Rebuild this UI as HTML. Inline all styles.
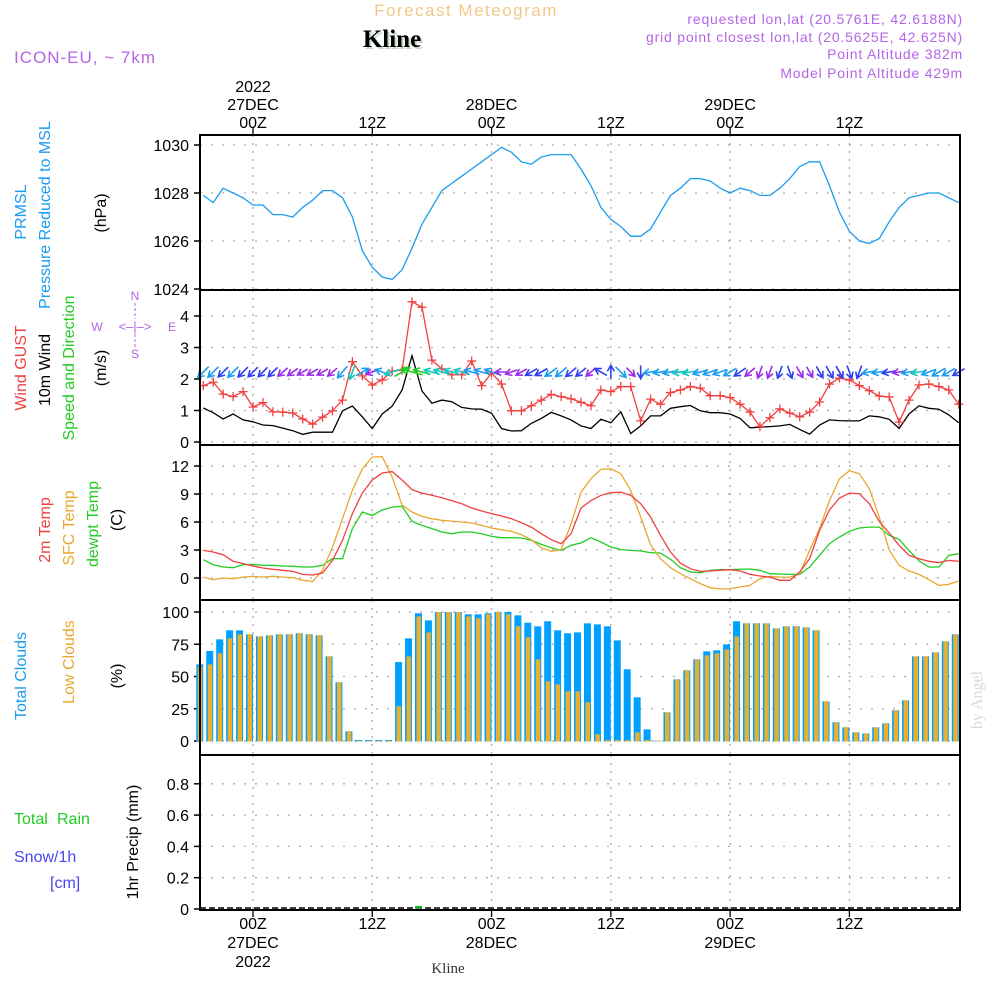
<!DOCTYPE html>
<html><head><meta charset="utf-8"><style>
html,body{margin:0;padding:0;background:#fff;}
svg{display:block;font-family:"Liberation Sans",sans-serif;}
</style></head><body>
<svg id="chart" width="1000" height="1000" viewBox="0 0 1000 1000" xmlns="http://www.w3.org/2000/svg">
<rect x="0" y="0" width="1000" height="1000" fill="#fff"/>
<text x="466" y="16" text-anchor="middle" font-size="17" fill="#f2c88a" letter-spacing="1.5">Forecast Meteogram</text>
<text x="394" y="49" text-anchor="middle" font-size="25" font-weight="bold" font-family="Liberation Serif, serif" fill="#c8d8c8">Kline</text>
<text x="392" y="47" text-anchor="middle" font-size="25" font-weight="bold" font-family="Liberation Serif, serif" fill="#000">Kline</text>
<text x="14" y="63" font-size="17" fill="#b464e6" letter-spacing="1">ICON-EU, ~ 7km</text>
<g font-size="14" fill="#b464e6" text-anchor="end" letter-spacing="0.8">
<text x="963" y="24">requested lon,lat (20.5761E, 42.6188N)</text>
<text x="963" y="42">grid point closest lon,lat (20.5625E, 42.625N)</text>
<text x="963" y="59">Point Altitude 382m</text>
<text x="963" y="78">Model Point Altitude 429m</text>
</g>
<text transform="rotate(-90 982 700)" x="982" y="700" text-anchor="middle" font-size="16" font-family="Liberation Serif, serif" fill="#d2dcd2">by Angel</text>
<g id="layer"></g>
</svg>
<script>
// ---- data (hourly, from 19Z 26DEC = hour -5 to 23Z 29DEC = hour 71) ----
const hourStart = -5;
const pressure = [1027.9,1027.6,1028.2,1028.0,1027.8,1027.5,1027.5,1027.1,1027.1,1027.0,1027.4,1027.7,1028.1,1028.1,1027.8,1027.0,1025.6,1024.9,1024.5,1024.4,1024.8,1025.7,1026.7,1027.4,1028.1,1028.4,1028.7,1029.0,1029.3,1029.6,1029.9,1029.7,1029.3,1029.2,1029.5,1029.6,1029.6,1029.6,1029.0,1028.3,1027.4,1026.9,1026.6,1026.2,1026.2,1026.5,1027.2,1027.9,1028.2,1028.6,1028.6,1028.5,1028.2,1028.0,1028.2,1028.1,1027.9,1027.9,1028.2,1028.6,1029.1,1029.3,1029.3,1028.3,1027.2,1026.4,1026.0,1025.9,1026.1,1026.8,1027.4,1027.8,1027.9,1028.0,1028.0,1027.8,1027.6];
const gust = [1.79,1.9,1.52,1.44,1.6,1.11,1.25,0.96,0.95,0.92,0.73,0.57,0.79,0.99,1.33,2.55,2.1,1.81,1.97,2.25,2.28,4.45,4.28,2.6,2.32,2.13,2.13,2.57,1.79,2.19,1.84,0.99,0.99,1.15,1.33,1.51,1.44,1.37,1.26,1.15,1.65,1.6,1.76,1.76,0.67,1.36,1.2,1.57,1.65,1.76,1.71,1.47,1.47,1.41,1.2,0.95,0.49,0.77,1.05,0.92,0.8,0.95,1.27,1.84,2.03,1.97,1.79,1.63,1.46,1.43,0.63,1.33,1.81,1.84,1.76,1.65,1.2];
const wind = [1.08,0.93,0.73,0.89,0.7,0.64,0.54,0.52,0.44,0.36,0.24,0.31,0.31,0.31,0.99,1.14,0.8,0.43,0.89,1.14,1.65,2.74,1.62,1.23,1.33,1.28,1.1,1.05,1.04,0.91,0.43,0.35,0.36,0.59,0.75,0.94,0.83,0.7,0.51,0.43,0.72,0.61,0.96,0.27,0.51,0.83,0.83,1.07,1.12,1.16,0.99,0.93,0.93,0.89,0.75,0.45,0.47,0.49,0.51,0.56,0.4,0.25,0.54,0.7,0.68,0.67,0.67,0.83,0.8,0.72,0.43,0.89,1.15,1.07,1.04,0.86,0.61];
const windDir = [225,225,225,225,225,225,225,225,230,235,240,240,240,230,220,200,60,250,290,250,60,285,285,285,285,285,285,285,285,290,270,250,240,240,240,235,230,230,230,230,300,0,135,135,180,260,260,260,260,260,255,250,250,240,235,230,200,200,200,160,150,150,150,150,150,160,200,260,260,260,260,260,260,250,240,240,240];
const temp2m = [2.96,2.79,2.5,1.79,1.54,1.29,1.07,0.93,0.82,0.71,0.39,0.32,0.54,1.89,4.04,6.9,9.1,10.5,11.25,11.4,10.5,9.46,9.1,8.86,8.6,8.3,7.96,7.5,7.18,6.9,6.64,6.36,5.93,5.46,4.75,4.1,3.68,4.75,7.5,8.3,8.86,9.14,9.2,8.86,7.96,6.54,4.57,2.79,1.6,1.0,0.71,0.75,0.82,0.89,0.75,0.39,0.21,0.1,-0.25,-0.25,0.64,2.07,5.1,7.3,8.57,9.1,9.04,7.96,6.07,4.82,3.5,2.43,2.07,1.79,1.64,1.89,1.79];
const tempSfc = [0.1,-0.18,0,-0.07,0.1,0.18,0.1,0.18,0.1,0.04,-0.25,-0.36,0.82,3.3,6.36,9.4,11.7,12.96,13.0,10.8,7.8,7.07,6.6,6.36,6.18,6.1,6.0,5.9,5.64,5.36,5.18,5.0,4.64,4.1,3.25,2.86,3.04,5.8,9.2,10.64,11.64,11.7,11.18,9.39,6.54,3.57,2.07,1.1,0.46,-0.07,-0.6,-1.04,-1.18,-1.14,-0.96,-0.79,-0.07,0.18,0.1,0.1,0.46,2.96,5.29,8.3,10.64,11.5,11.18,9.57,6.54,3.0,1.36,0.75,0.39,-0.18,-0.79,-0.68,-0.32];
const dewpt = [1.96,1.43,1.18,1.1,1.43,1.46,1.36,1.36,1.29,1.25,1.18,1.18,1.36,2.07,2.07,5.29,7.07,6.7,7.3,7.6,7.68,6.07,5.64,5.29,4.93,4.75,4.93,4.93,4.75,4.46,4.32,4.32,4.29,4.04,3.6,3.25,2.96,3.5,3.75,4.32,3.86,3.32,3.04,2.96,2.89,2.71,2.68,2.0,1.1,0.64,0.57,0.82,0.89,0.89,0.93,0.96,0.82,0.46,0.43,0.39,0.39,1.18,2.43,3.68,4.39,5.0,5.36,5.46,5.46,4.57,4.14,2.96,1.82,1.18,1.18,2.43,2.6];
const totalClouds = [59.4,69.8,78.8,85.8,85.8,82.7,81.1,81.9,82.7,82.7,83.5,82.7,81.9,65.6,45.5,7.5,0.8,0.8,0.8,0.8,61.2,79.6,99,93.5,100,100,100,98.2,98.2,99,100,100,97.4,91.7,88.9,92.8,85.8,83.5,84.2,91.2,90.4,88.9,78,55.6,33.9,9,0.3,22.2,47.8,54.8,63.3,69.5,70.3,74.9,92.8,91.2,91.2,91.2,87.3,88.9,88.9,88.1,85.8,30.7,14.5,10.6,6.7,5.9,10.6,13.7,23.8,31.5,65.6,65.6,68.7,77.3,82.7];
const lowClouds = [57.4,59.4,68,79.6,82.7,82.7,81.1,81.9,82.7,82.7,83.5,82.7,81.9,65.6,45.5,7.5,0.3,0.3,0.3,0.3,26.9,65.6,96.6,84.2,100,100,100,96.6,95.1,98.2,100,98.2,88.9,80.4,63.3,46.3,43.9,38.5,38.5,30,5.2,0.8,0.8,0.8,6.7,0.8,0.3,22.2,47.8,54.8,63.3,66.4,68,71,81.1,91.2,91.2,91.2,87.3,88.9,88.9,88.1,85.8,30.7,14.5,10.6,6.7,5.9,10.6,13.7,23.8,31.5,65.6,65.6,68.7,77.3,82.7];
const precip = [0,0,0,0,0,0,0,0,0,0,0,0,0,0,0,0,0,0,0,0,0,0,0.01,0,0,0,0,0,0,0,0,0,0,0,0,0,0,0,0,0,0,0,0,0,0,0,0,0,0,0,0,0,0,0,0,0,0,0,0,0,0,0,0,0,0,0,0,0,0,0,0,0,0,0,0,0,0];
const pTicks = [1024,1026,1028,1030];
const wTicks = [0,1,2,3,4];
const tTicks = [0,3,6,9,12];
const cTicks = [0,25,50,75,100];
const rTicks = [0,0.2,0.4,0.6,0.8];
const rTickLabels = ["0","0.2","0.4","0.6","0.8"];
const timeTicks = [0,12,24,36,48,60];
const timeLabels = ["00Z","12Z","00Z","12Z","00Z","12Z"];
const dayLabels = ["27DEC","","28DEC","","29DEC",""];

// ---- scales ----
const X0 = 200, X1 = 960;
const xH = h => 253 + h * 9.94;
const xI = i => xH(hourStart + i);
const pY = v => 145 + (1030 - v) * 24;
const wY = v => 442 - v * 31.5;
const tY = v => 578 - v * 9.33;
const cY = v => 741 - v * 1.29;
const rY = v => 909 - v * 156.5;
const panels = [[135,290],[290,445],[445,600],[600,755],[755,910]];

const NS = "http://www.w3.org/2000/svg";
const layer = document.getElementById("layer");
function mk(tag, attrs, parent) {
  const e = document.createElementNS(NS, tag);
  for (const k in attrs) e.setAttribute(k, attrs[k]);
  (parent || layer).appendChild(e);
  return e;
}
function txt(s, attrs, parent) { const e = mk("text", attrs, parent); e.textContent = s; return e; }

panels.forEach((p, k) => {
  const g = mk("g", {});
  
  
  mk("rect", {x: X0, y: p[0], width: X1 - X0, height: p[1] - p[0], fill: "#fff"}, g);
  timeTicks.forEach(h => {
    mk("line", {x1: xH(h), x2: xH(h), y1: p[0], y2: p[1], stroke: "#aaa", "stroke-width": 1.3, "stroke-dasharray": "2,6"}, g);
  });
});
function hGrid(vals, fy, fmt) {
  vals.forEach((v, j) => {
    const y = fy(v);
    mk("line", {x1: X0, x2: X1, y1: y, y2: y, stroke: "#aaa", "stroke-width": 1.3, "stroke-dasharray": "2,9"});
    mk("line", {x1: X0 - 6, x2: X0, y1: y, y2: y, stroke: "#000", "stroke-width": 1.5});
    const t = txt(fmt ? fmt[j] : String(v), {x: 189, y: y + 6, "text-anchor": "end", "font-size": 16, fill: "#000"});
    
    
  });
}
hGrid(pTicks, pY); hGrid(wTicks, wY); hGrid(tTicks, tY); hGrid(cTicks, cY); hGrid(rTicks, rY, rTickLabels);

function polyline(vals, fy, color, name, w) {
  const pts = vals.map((v, i) => xI(i).toFixed(1) + "," + fy(v).toFixed(1)).join(" ");
  const e = mk("polyline", {points: pts, fill: "none", stroke: color, "stroke-width": w || 1.3});
  
  
  return e;
}
polyline(pressure, pY, "#1a9cf0", "pressure-line");
polyline(wind, wY, "#000", "wind-speed-line");
polyline(gust, wY, "#f04040", "wind-gust-line");
gust.forEach((v, i) => {
  const x = xI(i), y = wY(v);
  const m = mk("path", {d: `M${x-4.5},${y}H${x+4.5}M${x},${y-4.5}V${y+4.5}`, stroke: "#f04040", "stroke-width": 1.3});
  
  
});
function windColor(s) {
  if (s < 0.5) return "#9a2ee8";
  if (s < 0.8) return "#3040f0";
  if (s < 1.1) return "#1a9cf0";
  if (s < 1.5) return "#18c8c0";
  return "#22cc22";
}
wind.forEach((s, i) => {
  const a = windDir[i] * Math.PI / 180;
  const L = 11 + s * 4;
  const dx = Math.sin(a) * L, dy = -Math.cos(a) * L;
  const cx = xI(i), cy = 372;
  const x1 = cx - dx / 2, y1 = cy - dy / 2, x2 = cx + dx / 2, y2 = cy + dy / 2;
  const ux = dx / L, uy = dy / L;
  const hx1 = x2 - ux * 6 + uy * 3.5, hy1 = y2 - uy * 6 - ux * 3.5;
  const hx2 = x2 - ux * 6 - uy * 3.5, hy2 = y2 - uy * 6 + ux * 3.5;
  const c = windColor(s);
  const e = mk("path", {d: `M${x1},${y1}L${x2},${y2}M${hx1},${hy1}L${x2},${y2}L${hx2},${hy2}`, stroke: c, "stroke-width": 1.6, fill: "none"});
  
  
});
polyline(dewpt, tY, "#22cc22", "dewpoint-line");
polyline(tempSfc, tY, "#e8a830", "sfc-temp-line");
polyline(temp2m, tY, "#f04040", "temp-2m-line");
totalClouds.forEach((v, i) => {
  const x = xI(i);
  const b = mk("rect", {x: x - 7, y: cY(v), width: 7, height: cY(0) - cY(v) + 0.5, fill: "#00a0ff"});
  
  
  const o = mk("rect", {x: x - 5.5, y: cY(lowClouds[i]), width: 4.5, height: cY(0) - cY(lowClouds[i]) + 0.5, fill: "#e8b030"});
  
  
});
mk("line", {x1: X0, x2: X1, y1: rY(0) - 1, y2: rY(0) - 1, stroke: "#000", "stroke-width": 1.5, "stroke-dasharray": "6,3"});
precip.forEach((v, i) => {
  if (v <= 0) return;
  const x = xI(i);
  const h = Math.max(2.5, rY(0) - rY(v));
  const b = mk("rect", {x: x - 7, y: rY(0) - h - 0.5, width: 7, height: h, fill: "#22aa22"});
  
  
});
panels.forEach(p => {
  mk("rect", {x: X0, y: p[0], width: X1 - X0, height: p[1] - p[0], fill: "none", stroke: "#000", "stroke-width": 2});
});
timeTicks.forEach((h, j) => {
  const x = xH(h);
  mk("line", {x1: x, x2: x, y1: 128, y2: 135, stroke: "#000", "stroke-width": 1.3});
  mk("line", {x1: x, x2: x, y1: 910, y2: 917, stroke: "#000", "stroke-width": 1.3});
  const t1 = txt(timeLabels[j], {x: x, y: 128, "text-anchor": "middle", "font-size": 16});
  
  
  const t2 = txt(timeLabels[j], {x: x, y: 929, "text-anchor": "middle", "font-size": 16});
  
  
  if (dayLabels[j]) {
    const d1 = txt(dayLabels[j], {x: x, y: 110, "text-anchor": "middle", "font-size": 16});
    
    
    const d2 = txt(dayLabels[j], {x: x, y: 948, "text-anchor": "middle", "font-size": 16});
    
    
  }
});
const yr1 = txt("2022", {x: xH(0), y: 92, "text-anchor": "middle", "font-size": 16});


const yr2 = txt("2022", {x: xH(0), y: 967, "text-anchor": "middle", "font-size": 16});


const kl = txt("Kline", {x: 448, y: 973, "text-anchor": "middle", "font-size": 15, "font-family": "Liberation Serif, serif", fill: "#333"});



const vlabels = [
  ["PRMSL", 26, 212, "#1a9cf0", "pressure-title-1"],
  ["Pressure Reduced to MSL", 50, 215, "#1a9cf0", "pressure-title-2"],
  ["(hPa)", 106, 213, "#000", "pressure-unit"],
  ["Wind GUST", 26, 368, "#f04040", "gust-title"],
  ["10m Wind", 50, 370, "#000", "wind-title"],
  ["Speed and Direction", 74, 368, "#22cc22", "wind-subtitle"],
  ["(m/s)", 106, 368, "#000", "wind-unit"],
  ["2m Temp", 50, 530, "#f04040", "temp-2m-title"],
  ["SFC Temp", 74, 528, "#e8a830", "sfc-temp-title"],
  ["dewpt Temp", 98, 524, "#22cc22", "dewpt-title"],
  ["(C)", 122, 520, "#000", "temp-unit"],
  ["Total Clouds", 26, 676, "#1a9cf0", "total-clouds-title"],
  ["Low Clouds", 74, 662, "#e8a830", "low-clouds-title"],
  ["(%)", 122, 676, "#000", "clouds-unit"],
  ["1hr Precip (mm)", 138, 842, "#000", "precip-title"]
];
vlabels.forEach(l => {
  const t = txt(l[0], {x: l[1], y: l[2], transform: `rotate(-90 ${l[1]} ${l[2]})`, "text-anchor": "middle", "font-size": 16, fill: l[3]});
  
  
});
const tr = txt("Total", {x: 14, y: 824, "font-size": 16, fill: "#22cc22"});


const tr2 = txt("Rain", {x: 57, y: 824, "font-size": 16, fill: "#22cc22"});


const sn = txt("Snow/1h", {x: 14, y: 862, "font-size": 16, fill: "#4848f0"});


const cm = txt("[cm]", {x: 50, y: 888, "font-size": 16, fill: "#4848f0"});


const cg = mk("g", {fill: "#b464e6", "font-size": 12, "text-anchor": "middle"});


txt("N", {x: 135, y: 300}, cg);
txt("S", {x: 135, y: 358}, cg);
txt("W", {x: 97, y: 331}, cg);
txt("E", {x: 172, y: 331}, cg);
txt("<–|–>", {x: 135, y: 331, "font-size": 13}, cg);
mk("line", {x1: 135, x2: 135, y1: 303, y2: 319, stroke: "#b464e6", "stroke-dasharray": "3,2"}, cg);
mk("line", {x1: 135, x2: 135, y1: 334, y2: 348, stroke: "#b464e6", "stroke-dasharray": "3,2"}, cg);
</script>
</body></html>
